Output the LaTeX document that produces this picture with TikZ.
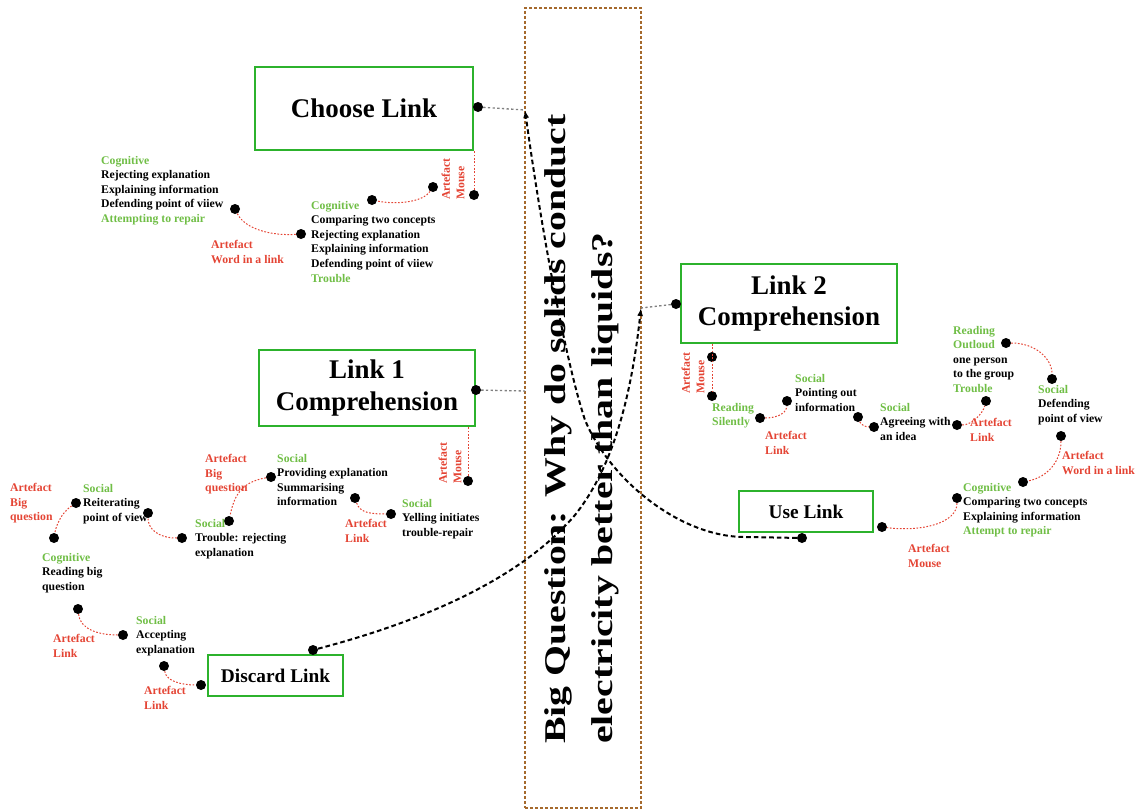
\documentclass[tikz,border=0pt]{standalone}
\usepackage{fontspec}
\setmainfont{Liberation Serif}
\newfontfamily\bqfont[FakeStretch=1.32]{Liberation Serif}
\usetikzlibrary{arrows.meta,positioning}
\definecolor{boxgreen}{RGB}{44,178,44}
\definecolor{txtgreen}{RGB}{112,190,70}
\definecolor{txtred}{RGB}{228,68,52}
\definecolor{rimbrown}{RGB}{165,105,45}
\newcommand{\gtxt}[1]{\textcolor{txtgreen}{#1}}

\begin{document}
\begin{tikzpicture}[x=0.03cm,y=-0.03cm,
  linkbox/.style={draw=boxgreen,line width=0.6mm,align=center,font=\bfseries\fontsize{23}{27}\selectfont},
  smallbox/.style={linkbox,font=\bfseries\fontsize{16.5}{20}\selectfont},
  dot/.style={circle,fill=black,inner sep=0pt,minimum size=3mm},
  lbl/.style={anchor=north west,align=left,inner sep=0pt,font=\bfseries\fontsize{10}{12.4}\selectfont},
  rotlbl/.style={rotate=90,align=left,inner sep=0pt,text=txtred,font=\bfseries\fontsize{10}{12.4}\selectfont},
  redlink/.style={txtred,line width=0.3mm,dash pattern=on 0.5mm off 0.5mm},
  greylink/.style={gray,line width=0.4mm,dash pattern=on 0.7mm off 0.7mm},
  bqlink/.style={black,line width=0.6mm,dash pattern=on 1.4mm off 0.9mm,-{Latex[length=2.4mm,width=1.8mm]}}]
\useasboundingbox (0,0) rectangle (1147,812);

% big question
\node (bq) at (583,408) [draw=rimbrown,line width=0.5mm,dash pattern=on 1mm off 0.5mm,minimum width=34.8mm,minimum height=240mm]{};
\node (bqt) at (582,429) [rotate=90,align=left,inner sep=0pt,font=\bqfont\bfseries\fontsize{25.7}{40.5}\selectfont]{Big Question: Why do solids conduct\\electricity better than liquids?};
\coordinate (q1) at (525,110);
\coordinate (q2) at (641,308);
\coordinate (q3) at (525,391);

% choose link
\node (choose) at (364,108.5) [linkbox,minimum width=65.4mm,minimum height=24.9mm]{Choose Link};
\node (c0) at (478,107) [dot]{};
\node (cm) at (474,195) [dot]{};
\node (c1) at (433,187) [dot]{};
\node (c2) at (372,200) [dot]{};
\node (c3) at (235,209) [dot]{};
\node (c4) at (301,234) [dot]{};
\node (r1) at (453,179) [rotlbl]{Artefact\\Mouse};
\node (t1) at (101,156) [lbl]{\gtxt{Cognitive}\\Rejecting explanation\\Explaining information\\Defending point of viiew\\\gtxt{Attempting to repair}};
\node (t2) at (211,240) [lbl,text=txtred]{Artefact\\Word in a link};
\node (t3) at (311,201) [lbl]{\gtxt{Cognitive}\\Comparing two concepts\\Rejecting explanation\\Explaining information\\Defending point of viiew\\\gtxt{Trouble}};

% link 1
\node (link1) at (367,388) [linkbox,minimum width=64.8mm,minimum height=22.8mm]{Link 1\\Comprehension};
\node (l0) at (476,390) [dot]{};
\node (lm) at (468,481) [dot]{};
\node (l1) at (271,477) [dot]{};
\node (l2) at (229,521) [dot]{};
\node (l3) at (355,498) [dot]{};
\node (l4) at (391,514) [dot]{};
\node (r2) at (450,463) [rotlbl]{Artefact\\Mouse};
\node (t4) at (205,454) [lbl,text=txtred]{Artefact\\Big\\question};
\node (t5) at (277,454) [lbl]{\gtxt{Social}\\Providing explanation\\Summarising\\information};
\node (t6) at (195,519) [lbl]{\gtxt{Social}\\Trouble: rejecting\\explanation};
\node (t7) at (402,499) [lbl]{\gtxt{Social}\\Yelling initiates\\trouble-repair};
\node (t8) at (345,519) [lbl,text=txtred]{Artefact\\Link};

% left trail to discard
\node (l5) at (182,538) [dot]{};
\node (l6) at (148,513) [dot]{};
\node (l7) at (76,503) [dot]{};
\node (l8) at (54,538) [dot]{};
\node (l9) at (78,609) [dot]{};
\node (l10) at (123,635) [dot]{};
\node (l11) at (164,666) [dot]{};
\node (l12) at (201,685) [dot]{};
\node (t9) at (83,484) [lbl]{\gtxt{Social}\\Reiterating\\point of view};
\node (t10) at (10,483) [lbl,text=txtred]{Artefact\\Big\\question};
\node (t11) at (42,553) [lbl]{\gtxt{Cognitive}\\Reading big\\question};
\node (t12) at (53,634) [lbl,text=txtred]{Artefact\\Link};
\node (t13) at (136,616) [lbl]{\gtxt{Social}\\Accepting\\explanation};
\node (t14) at (144,686) [lbl,text=txtred]{Artefact\\Link};
\node (discard) at (275.5,675.5) [smallbox,minimum width=40.5mm,minimum height=12.3mm]{Discard Link};
\node (dd) at (313,650) [dot]{};

% link 2
\node (link2) at (789,303.5) [linkbox,minimum width=64.8mm,minimum height=23.7mm]{Link 2\\Comprehension};
\node (k0) at (676,304) [dot]{};
\node (k1) at (712,357) [dot]{};
\node (k2) at (712,396) [dot]{};
\node (k3) at (760,418) [dot]{};
\node (k4) at (787,401) [dot]{};
\node (k5) at (858,417) [dot]{};
\node (k6) at (874,427) [dot]{};
\node (k7) at (957,425) [dot]{};
\node (k8) at (986,401) [dot]{};
\node (k9) at (1006,343) [dot]{};
\node (k10) at (1052,379) [dot]{};
\node (k11) at (1061,436) [dot]{};
\node (k12) at (1023,482) [dot]{};
\node (k13) at (957,498) [dot]{};
\node (k14) at (882,527) [dot]{};
\node (r3) at (693,373) [rotlbl]{Artefact\\Mouse};
\node (t15) at (712,403) [lbl,text=txtgreen]{Reading\\Silently};
\node (t16) at (765,431) [lbl,text=txtred]{Artefact\\Link};
\node (t17) at (795,374) [lbl]{\gtxt{Social}\\Pointing out\\information};
\node (t18) at (880,403) [lbl]{\gtxt{Social}\\Agreeing with\\an idea};
\node (t19) at (970,418) [lbl,text=txtred]{Artefact\\Link};
\node (t20) at (953,326) [lbl]{\gtxt{Reading}\\\gtxt{Outloud}\\one person\\to the group\\\gtxt{Trouble}};
\node (t21) at (1038,385) [lbl]{\gtxt{Social}\\Defending\\point of view};
\node (t22) at (1062,451) [lbl,text=txtred]{Artefact\\Word in a link};
\node (t23) at (963,483) [lbl]{\gtxt{Cognitive}\\Comparing two concepts\\Explaining information\\\gtxt{Attempt to repair}};
\node (t24) at (908,544) [lbl,text=txtred]{Artefact\\Mouse};
\node (use) at (806,511.5) [smallbox,minimum width=40.2mm,minimum height=12.3mm]{Use Link};
\node (u0) at (802,538) [dot]{};

% links to the question
\draw[greylink] (c0) -- (q1);
\draw[greylink] (l0) -- (q3);
\draw[greylink] (k0) -- (q2);
\draw[bqlink] (u0) -- (745,537) .. controls (680,537) and (610,480) .. (585,420) .. controls (565,360) and (540,220) .. (q1);
\draw[bqlink] (dd) .. controls (420,622) and (520,580) .. (575,515) .. controls (615,465) and (632,390) .. (q2);

% red trails
\draw[redlink] (cm) -- (cm |- choose.south);
\draw[redlink] (lm) -- (lm |- link1.south);
\draw[redlink] (k1 |- link2.south) -- (k2);
\draw[redlink] (c1) .. controls +(-10,15) and +(25,5) .. (c2);
\draw[redlink] (c3) .. controls +(10,20) and +(-30,2) .. (c4);
\draw[redlink] (l1) .. controls +(-30,5) and +(5,-25) .. (l2);
\draw[redlink] (l3) .. controls +(5,15) and +(-20,0) .. (l4);
\draw[redlink] (l5) .. controls +(-25,0) and +(0,15) .. (l6);
\draw[redlink] (l7) .. controls +(-15,10) and +(2,-12) .. (l8);
\draw[redlink] (l9) .. controls +(2,20) and +(-25,0) .. (l10);
\draw[redlink] (l11) .. controls +(2,15) and +(-20,0) .. (l12);
\draw[redlink] (k3) .. controls +(20,0) and +(0,10) .. (k4);
\draw[redlink] (k5) .. controls +(3,8) and +(-8,0) .. (k6);
\draw[redlink] (k7) .. controls +(15,0) and +(-3,12) .. (k8);
\draw[redlink] (k9) .. controls +(30,0) and +(0,-20) .. (k10);
\draw[redlink] (k11) .. controls +(0,25) and +(25,-5) .. (k12);
\draw[redlink] (k13) .. controls +(0,25) and +(40,5) .. (k14);

\end{tikzpicture}
\end{document}
